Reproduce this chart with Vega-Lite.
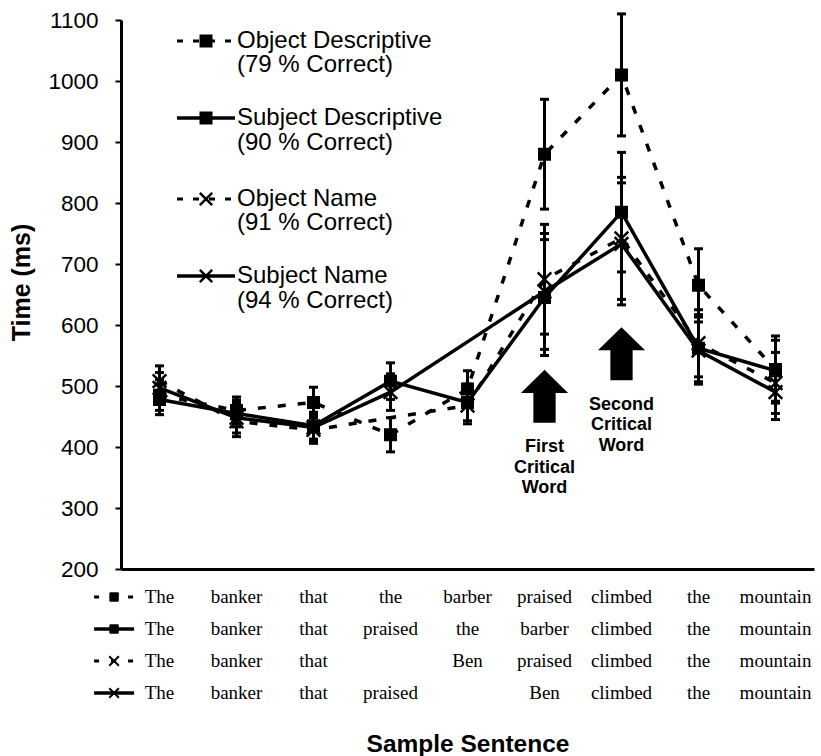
{
  "$schema": "https://vega.github.io/schema/vega-lite/v6.json",
  "background": "white",
  "padding": {"top": 9, "left": 9, "right": 5, "bottom": 0},
  "spacing": 0,
  "config": {
    "view": {"stroke": null},
    "font": "Liberation Sans",
    "axis": {"grid": false, "domainColor": "black", "tickColor": "black", "labelColor": "black", "titleColor": "black"}
  },
  "datasets": {
    "times": [
      {"series": "Object Descriptive", "idx": 1, "time": 485, "lo": 460, "hi": 510},
      {"series": "Object Descriptive", "idx": 2, "time": 460, "lo": 438, "hi": 482},
      {"series": "Object Descriptive", "idx": 3, "time": 473, "lo": 448, "hi": 498},
      {"series": "Object Descriptive", "idx": 4, "time": 420, "lo": 392, "hi": 448},
      {"series": "Object Descriptive", "idx": 5, "time": 495, "lo": 465, "hi": 525},
      {"series": "Object Descriptive", "idx": 6, "time": 880, "lo": 790, "hi": 970},
      {"series": "Object Descriptive", "idx": 7, "time": 1010, "lo": 910, "hi": 1110},
      {"series": "Object Descriptive", "idx": 8, "time": 665, "lo": 605, "hi": 725},
      {"series": "Object Descriptive", "idx": 9, "time": 527, "lo": 472, "hi": 582},
      {"series": "Subject Descriptive", "idx": 1, "time": 478, "lo": 453, "hi": 503},
      {"series": "Subject Descriptive", "idx": 2, "time": 455, "lo": 433, "hi": 477},
      {"series": "Subject Descriptive", "idx": 3, "time": 435, "lo": 413, "hi": 457},
      {"series": "Subject Descriptive", "idx": 4, "time": 508, "lo": 478, "hi": 538},
      {"series": "Subject Descriptive", "idx": 5, "time": 473, "lo": 443, "hi": 503},
      {"series": "Subject Descriptive", "idx": 6, "time": 645, "lo": 550, "hi": 740},
      {"series": "Subject Descriptive", "idx": 7, "time": 785, "lo": 687, "hi": 883},
      {"series": "Subject Descriptive", "idx": 8, "time": 562, "lo": 507, "hi": 617},
      {"series": "Subject Descriptive", "idx": 9, "time": 525, "lo": 475, "hi": 575},
      {"series": "Object Name", "idx": 1, "time": 508, "lo": 483, "hi": 533},
      {"series": "Object Name", "idx": 2, "time": 442, "lo": 417, "hi": 467},
      {"series": "Object Name", "idx": 3, "time": 428, "lo": 406, "hi": 450},
      {"series": "Object Name", "idx": 5, "time": 468, "lo": 438, "hi": 498},
      {"series": "Object Name", "idx": 6, "time": 675, "lo": 585, "hi": 765},
      {"series": "Object Name", "idx": 7, "time": 742, "lo": 642, "hi": 842},
      {"series": "Object Name", "idx": 8, "time": 570, "lo": 515, "hi": 625},
      {"series": "Object Name", "idx": 9, "time": 505, "lo": 455, "hi": 555},
      {"series": "Subject Name", "idx": 1, "time": 497, "lo": 472, "hi": 522},
      {"series": "Subject Name", "idx": 2, "time": 448, "lo": 423, "hi": 473},
      {"series": "Subject Name", "idx": 3, "time": 432, "lo": 410, "hi": 454},
      {"series": "Subject Name", "idx": 4, "time": 490, "lo": 460, "hi": 520},
      {"series": "Subject Name", "idx": 6, "time": 655, "lo": 560, "hi": 750},
      {"series": "Subject Name", "idx": 7, "time": 733, "lo": 633, "hi": 833},
      {"series": "Subject Name", "idx": 8, "time": 558, "lo": 503, "hi": 613},
      {"series": "Subject Name", "idx": 9, "time": 490, "lo": 445, "hi": 535}
    ],
    "words": [
      {"series": "Object Descriptive", "idx": 1, "word": "The"},
      {"series": "Object Descriptive", "idx": 2, "word": "banker"},
      {"series": "Object Descriptive", "idx": 3, "word": "that"},
      {"series": "Object Descriptive", "idx": 4, "word": "the"},
      {"series": "Object Descriptive", "idx": 5, "word": "barber"},
      {"series": "Object Descriptive", "idx": 6, "word": "praised"},
      {"series": "Object Descriptive", "idx": 7, "word": "climbed"},
      {"series": "Object Descriptive", "idx": 8, "word": "the"},
      {"series": "Object Descriptive", "idx": 9, "word": "mountain"},
      {"series": "Subject Descriptive", "idx": 1, "word": "The"},
      {"series": "Subject Descriptive", "idx": 2, "word": "banker"},
      {"series": "Subject Descriptive", "idx": 3, "word": "that"},
      {"series": "Subject Descriptive", "idx": 4, "word": "praised"},
      {"series": "Subject Descriptive", "idx": 5, "word": "the"},
      {"series": "Subject Descriptive", "idx": 6, "word": "barber"},
      {"series": "Subject Descriptive", "idx": 7, "word": "climbed"},
      {"series": "Subject Descriptive", "idx": 8, "word": "the"},
      {"series": "Subject Descriptive", "idx": 9, "word": "mountain"},
      {"series": "Object Name", "idx": 1, "word": "The"},
      {"series": "Object Name", "idx": 2, "word": "banker"},
      {"series": "Object Name", "idx": 3, "word": "that"},
      {"series": "Object Name", "idx": 5, "word": "Ben"},
      {"series": "Object Name", "idx": 6, "word": "praised"},
      {"series": "Object Name", "idx": 7, "word": "climbed"},
      {"series": "Object Name", "idx": 8, "word": "the"},
      {"series": "Object Name", "idx": 9, "word": "mountain"},
      {"series": "Subject Name", "idx": 1, "word": "The"},
      {"series": "Subject Name", "idx": 2, "word": "banker"},
      {"series": "Subject Name", "idx": 3, "word": "that"},
      {"series": "Subject Name", "idx": 4, "word": "praised"},
      {"series": "Subject Name", "idx": 6, "word": "Ben"},
      {"series": "Subject Name", "idx": 7, "word": "climbed"},
      {"series": "Subject Name", "idx": 8, "word": "the"},
      {"series": "Subject Name", "idx": 9, "word": "mountain"}
    ],
    "one": [{"a": 1}]
  },
  "vconcat": [
    {
      "width": 693,
      "height": 549,
      "layer": [
        {
          "data": {"name": "times"},
          "mark": {"type": "rule", "color": "black", "strokeWidth": 3},
          "encoding": {
            "x": {
              "field": "idx", "type": "quantitative",
              "scale": {"domain": [0.5, 9.5], "nice": false, "zero": false},
              "axis": {"labels": false, "ticks": false, "title": null, "domainWidth": 3}
            },
            "y": {
              "field": "lo", "type": "quantitative",
              "scale": {"domain": [200, 1100], "nice": false, "zero": false},
              "axis": {
                "values": [200, 300, 400, 500, 600, 700, 800, 900, 1000, 1100],
                "format": "d",
                "domainWidth": 3, "tickWidth": 2, "tickSize": 6,
                "labelFont": "Liberation Sans", "labelFontSize": 22.5, "labelPadding": 17,
                "title": "Time (ms)", "titleFont": "Liberation Sans", "titleFontSize": 25,
                "titleFontWeight": "bold", "titlePadding": 13, "titleY": 262
              }
            },
            "y2": {"field": "hi"}
          }
        },
        {
          "data": {"name": "times"},
          "mark": {"type": "tick", "orient": "horizontal", "color": "black", "size": 9, "thickness": 3, "opacity": 1},
          "encoding": {"x": {"field": "idx", "type": "quantitative"}, "y": {"field": "lo", "type": "quantitative"}}
        },
        {
          "data": {"name": "times"},
          "mark": {"type": "tick", "orient": "horizontal", "color": "black", "size": 9, "thickness": 3, "opacity": 1},
          "encoding": {"x": {"field": "idx", "type": "quantitative"}, "y": {"field": "hi", "type": "quantitative"}}
        },
        {
          "data": {"name": "times"},
          "transform": [{"filter": "datum.series == 'Object Descriptive' || datum.series == 'Object Name'"}],
          "mark": {"type": "line", "color": "black", "strokeWidth": 3.5, "strokeDash": [8, 12]},
          "encoding": {
            "x": {"field": "idx", "type": "quantitative"},
            "y": {"field": "time", "type": "quantitative"},
            "detail": {"field": "series", "type": "nominal"}
          }
        },
        {
          "data": {"name": "times"},
          "transform": [{"filter": "datum.series == 'Subject Descriptive' || datum.series == 'Subject Name'"}],
          "mark": {"type": "line", "color": "black", "strokeWidth": 3.5},
          "encoding": {
            "x": {"field": "idx", "type": "quantitative"},
            "y": {"field": "time", "type": "quantitative"},
            "detail": {"field": "series", "type": "nominal"}
          }
        },
        {
          "data": {"name": "times"},
          "mark": {"type": "point", "filled": true, "color": "black", "stroke": "black", "strokeWidth": 2.5, "opacity": 1, "size": 110},
          "encoding": {
            "x": {"field": "idx", "type": "quantitative"},
            "y": {"field": "time", "type": "quantitative"},
            "shape": {
              "field": "series", "type": "nominal",
              "scale": {
                "domain": ["Object Descriptive", "Subject Descriptive", "Object Name", "Subject Name"],
                "range": ["square", "square", "M-1.3,-1.3L1.3,1.3M-1.3,1.3L1.3,-1.3", "M-1.3,-1.3L1.3,1.3M-1.3,1.3L1.3,-1.3"]
              },
              "legend": null
            }
          }
        },
        {
          "data": {"name": "one"},
          "mark": {"type": "point", "shape": "M0,-1L0.89,-0.13L0.42,-0.13L0.42,1L-0.42,1L-0.42,-0.13L-0.89,-0.13Z", "size": 2809, "filled": true, "color": "black", "opacity": 1},
          "encoding": {"x": {"datum": 6, "type": "quantitative"}, "y": {"datum": 483, "type": "quantitative"}}
        },
        {
          "data": {"name": "one"},
          "mark": {"type": "point", "shape": "M0,-1L0.89,-0.13L0.42,-0.13L0.42,1L-0.42,1L-0.42,-0.13L-0.89,-0.13Z", "size": 2809, "filled": true, "color": "black", "opacity": 1},
          "encoding": {"x": {"datum": 7, "type": "quantitative"}, "y": {"datum": 553, "type": "quantitative"}}
        },
        {
          "data": {"name": "one"},
          "mark": {"type": "text", "text": ["First", "Critical", "Word"], "font": "Liberation Sans", "fontSize": 18, "fontWeight": "bold", "lineHeight": 20.5, "align": "center", "baseline": "middle", "color": "black"},
          "encoding": {"x": {"datum": 6, "type": "quantitative"}, "y": {"datum": 400, "type": "quantitative"}}
        },
        {
          "data": {"name": "one"},
          "mark": {"type": "text", "text": ["Second", "Critical", "Word"], "font": "Liberation Sans", "fontSize": 18, "fontWeight": "bold", "lineHeight": 20.5, "align": "center", "baseline": "middle", "color": "black"},
          "encoding": {"x": {"datum": 7, "type": "quantitative"}, "y": {"datum": 469, "type": "quantitative"}}
        },
        {
          "data": {"name": "one"},
          "mark": {"type": "point", "shape": "M-1,0H1", "size": 3364, "color": "black", "stroke": "black", "strokeWidth": 3, "strokeDash": [6, 10], "filled": false, "opacity": 1},
          "encoding": {"x": {"datum": 1.604, "type": "quantitative"}, "y": {"datum": 1065.6, "type": "quantitative"}}
        },
        {
          "data": {"name": "one"},
          "mark": {"type": "point", "shape": "square", "size": 110, "filled": true, "color": "black", "stroke": "black", "strokeWidth": 2.5, "opacity": 1},
          "encoding": {"x": {"datum": 1.604, "type": "quantitative"}, "y": {"datum": 1065.6, "type": "quantitative"}}
        },
        {
          "data": {"name": "one"},
          "mark": {"type": "text", "text": ["Object Descriptive", "(79 % Correct)"], "font": "Liberation Sans", "fontSize": 24, "lineHeight": 24.5, "align": "left", "baseline": "middle", "color": "black"},
          "encoding": {"x": {"datum": 2.006, "type": "quantitative"}, "y": {"datum": 1065.6, "type": "quantitative"}}
        },
        {
          "data": {"name": "one"},
          "mark": {"type": "point", "shape": "M-1,0H1", "size": 3364, "color": "black", "stroke": "black", "strokeWidth": 3.5, "filled": false, "opacity": 1},
          "encoding": {"x": {"datum": 1.604, "type": "quantitative"}, "y": {"datum": 939.3, "type": "quantitative"}}
        },
        {
          "data": {"name": "one"},
          "mark": {"type": "point", "shape": "square", "size": 110, "filled": true, "color": "black", "stroke": "black", "strokeWidth": 2.5, "opacity": 1},
          "encoding": {"x": {"datum": 1.604, "type": "quantitative"}, "y": {"datum": 939.3, "type": "quantitative"}}
        },
        {
          "data": {"name": "one"},
          "mark": {"type": "text", "text": ["Subject Descriptive", "(90 % Correct)"], "font": "Liberation Sans", "fontSize": 24, "lineHeight": 24.5, "align": "left", "baseline": "middle", "color": "black"},
          "encoding": {"x": {"datum": 2.006, "type": "quantitative"}, "y": {"datum": 939.3, "type": "quantitative"}}
        },
        {
          "data": {"name": "one"},
          "mark": {"type": "point", "shape": "M-1,0H1", "size": 3364, "color": "black", "stroke": "black", "strokeWidth": 3, "strokeDash": [6, 10], "filled": false, "opacity": 1},
          "encoding": {"x": {"datum": 1.604, "type": "quantitative"}, "y": {"datum": 806.6, "type": "quantitative"}}
        },
        {
          "data": {"name": "one"},
          "mark": {"type": "point", "shape": "M-1.3,-1.3L1.3,1.3M-1.3,1.3L1.3,-1.3", "size": 90, "filled": false, "color": "black", "stroke": "black", "strokeWidth": 2.5, "opacity": 1},
          "encoding": {"x": {"datum": 1.604, "type": "quantitative"}, "y": {"datum": 806.6, "type": "quantitative"}}
        },
        {
          "data": {"name": "one"},
          "mark": {"type": "text", "text": ["Object Name", "(91 % Correct)"], "font": "Liberation Sans", "fontSize": 24, "lineHeight": 24.5, "align": "left", "baseline": "middle", "color": "black"},
          "encoding": {"x": {"datum": 2.006, "type": "quantitative"}, "y": {"datum": 806.6, "type": "quantitative"}}
        },
        {
          "data": {"name": "one"},
          "mark": {"type": "point", "shape": "M-1,0H1", "size": 3364, "color": "black", "stroke": "black", "strokeWidth": 3.5, "filled": false, "opacity": 1},
          "encoding": {"x": {"datum": 1.604, "type": "quantitative"}, "y": {"datum": 680.3, "type": "quantitative"}}
        },
        {
          "data": {"name": "one"},
          "mark": {"type": "point", "shape": "M-1.3,-1.3L1.3,1.3M-1.3,1.3L1.3,-1.3", "size": 90, "filled": false, "color": "black", "stroke": "black", "strokeWidth": 2.5, "opacity": 1},
          "encoding": {"x": {"datum": 1.604, "type": "quantitative"}, "y": {"datum": 680.3, "type": "quantitative"}}
        },
        {
          "data": {"name": "one"},
          "mark": {"type": "text", "text": ["Subject Name", "(94 % Correct)"], "font": "Liberation Sans", "fontSize": 24, "lineHeight": 24.5, "align": "left", "baseline": "middle", "color": "black"},
          "encoding": {"x": {"datum": 2.006, "type": "quantitative"}, "y": {"datum": 680.3, "type": "quantitative"}}
        }
      ]
    },
    {
      "width": 693,
      "height": 128,
      "layer": [
        {
          "data": {"name": "words"},
          "mark": {"type": "text", "font": "Liberation Serif", "fontSize": 19, "color": "black", "baseline": "middle", "align": "center"},
          "encoding": {
            "x": {
              "field": "idx", "type": "quantitative",
              "scale": {"domain": [0.5, 9.5], "nice": false, "zero": false},
              "axis": {"labels": false, "ticks": false, "domain": false, "title": "Sample Sentence",
                       "titleFont": "Liberation Sans", "titleFontSize": 24.5, "titleFontWeight": "bold", "titlePadding": 23}
            },
            "y": {
              "field": "series", "type": "nominal",
              "scale": {"type": "point", "padding": 0.5, "domain": ["Object Descriptive", "Subject Descriptive", "Object Name", "Subject Name"]},
              "axis": null
            },
            "text": {"field": "word", "type": "nominal"}
          }
        },
        {
          "data": {"name": "one"},
          "mark": {"type": "point", "shape": "M-1,0H1", "size": 1600, "filled": false, "color": "black", "stroke": "black", "strokeWidth": 3, "strokeDash": [5, 12], "opacity": 1},
          "encoding": {"x": {"datum": 0.41, "type": "quantitative"}, "y": {"datum": "Object Descriptive", "type": "nominal"}}
        },
        {
          "data": {"name": "one"},
          "mark": {"type": "point", "shape": "square", "size": 70, "filled": true, "color": "black", "stroke": "black", "strokeWidth": 1, "opacity": 1},
          "encoding": {"x": {"datum": 0.41, "type": "quantitative"}, "y": {"datum": "Object Descriptive", "type": "nominal"}}
        },
        {
          "data": {"name": "one"},
          "mark": {"type": "point", "shape": "M-1,0H1", "size": 1600, "filled": false, "color": "black", "stroke": "black", "strokeWidth": 3.5, "opacity": 1},
          "encoding": {"x": {"datum": 0.41, "type": "quantitative"}, "y": {"datum": "Subject Descriptive", "type": "nominal"}}
        },
        {
          "data": {"name": "one"},
          "mark": {"type": "point", "shape": "square", "size": 70, "filled": true, "color": "black", "stroke": "black", "strokeWidth": 1, "opacity": 1},
          "encoding": {"x": {"datum": 0.41, "type": "quantitative"}, "y": {"datum": "Subject Descriptive", "type": "nominal"}}
        },
        {
          "data": {"name": "one"},
          "mark": {"type": "point", "shape": "M-1,0H1", "size": 1600, "filled": false, "color": "black", "stroke": "black", "strokeWidth": 3, "strokeDash": [5, 12], "opacity": 1},
          "encoding": {"x": {"datum": 0.41, "type": "quantitative"}, "y": {"datum": "Object Name", "type": "nominal"}}
        },
        {
          "data": {"name": "one"},
          "mark": {"type": "point", "shape": "M-1.3,-1.3L1.3,1.3M-1.3,1.3L1.3,-1.3", "size": 55, "filled": false, "color": "black", "stroke": "black", "strokeWidth": 2, "opacity": 1},
          "encoding": {"x": {"datum": 0.41, "type": "quantitative"}, "y": {"datum": "Object Name", "type": "nominal"}}
        },
        {
          "data": {"name": "one"},
          "mark": {"type": "point", "shape": "M-1,0H1", "size": 1600, "filled": false, "color": "black", "stroke": "black", "strokeWidth": 3.5, "opacity": 1},
          "encoding": {"x": {"datum": 0.41, "type": "quantitative"}, "y": {"datum": "Subject Name", "type": "nominal"}}
        },
        {
          "data": {"name": "one"},
          "mark": {"type": "point", "shape": "M-1.3,-1.3L1.3,1.3M-1.3,1.3L1.3,-1.3", "size": 55, "filled": false, "color": "black", "stroke": "black", "strokeWidth": 2, "opacity": 1},
          "encoding": {"x": {"datum": 0.41, "type": "quantitative"}, "y": {"datum": "Subject Name", "type": "nominal"}}
        }
      ]
    }
  ]
}
